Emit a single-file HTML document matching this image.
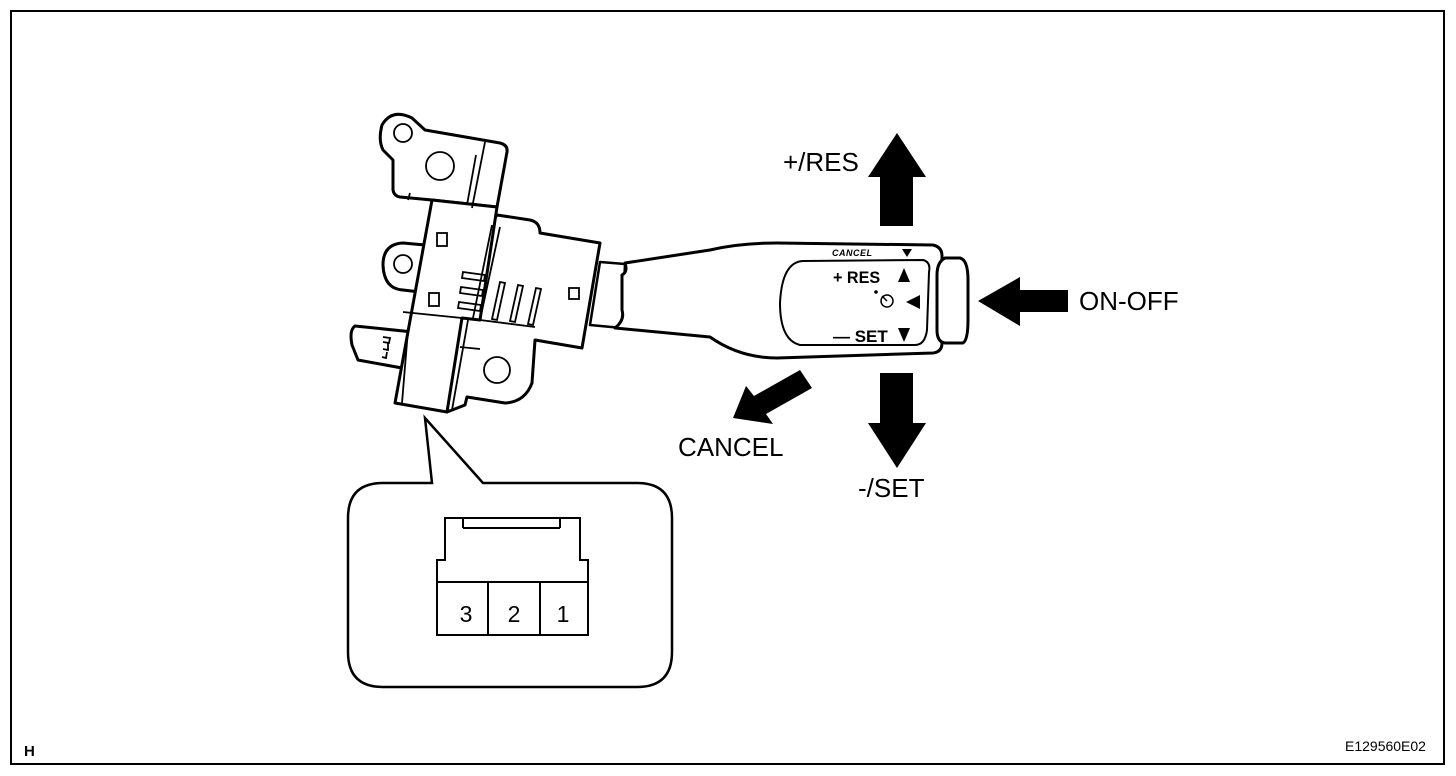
<!DOCTYPE html>
<html><head><meta charset="utf-8"><style>
html,body{margin:0;padding:0;background:#fff;}
svg{display:block;font-family:"Liberation Sans",sans-serif;}
</style></head><body>
<svg width="1456" height="776" viewBox="0 0 1456 776" xmlns="http://www.w3.org/2000/svg">
<rect x="11" y="11" width="1433" height="753" fill="none" stroke="#000" stroke-width="2"/>
<g fill="#fff" stroke="#000" stroke-width="3" stroke-linejoin="round">
<path d="M393,160 L383,150 Q378,140 382,125 Q392,108 412,118 L425,130 L500,143 Q508,145 507,152 L497,207 L432,200 L400,197 Q394,196 393,190 Z"/>
<path d="M425,245 L403,243 Q383,244 383,265 Q384,289 403,290 L420,292 Z"/>
<path d="M413,332 L355,326 Q349,330 352,345 L358,360 L402,368 Z"/>
<path d="M497,215 L530,220 Q540,222 540,233 L600,243 L582,348 L535,340 L532,383 Q525,402 505,403 L467,397 L465,405 L447,412 L430,300 Z"/>
<path d="M432,200 L497,207 L480,320 L462,318 L447,412 L395,403 Z"/>
<path d="M600,262 L625,264 L622,328 L590,325 Z" stroke-width="2.5"/>
</g>
<g fill="none" stroke="#000" stroke-width="1.8">
<circle cx="403" cy="133" r="9"/>
<circle cx="440" cy="166" r="14"/>
<circle cx="403" cy="264" r="9"/>
<circle cx="497" cy="370" r="13"/>
<line x1="485" y1="142" x2="472" y2="208"/>
<line x1="476" y1="155" x2="467" y2="205"/>
<line x1="410" y1="193" x2="408" y2="200"/>
<line x1="403" y1="312" x2="462" y2="318"/>
<line x1="480" y1="320" x2="535" y2="327"/>
<line x1="500" y1="227" x2="480" y2="320"/>
<line x1="492" y1="225" x2="473" y2="318"/>
<line x1="462" y1="318" x2="447" y2="412"/>
<line x1="468" y1="320" x2="452" y2="410"/>
<line x1="408" y1="330" x2="402" y2="403"/>
<line x1="460" y1="347" x2="480" y2="349"/>
<path d="M463,272 L485,275 L484,281 L462,278 Z"/>
<path d="M461,287 L483,290 L482,296 L460,293 Z"/>
<path d="M459,302 L481,305 L480,311 L458,308 Z"/>
<path d="M500,282 L505,283 L497,320 L492,319 Z"/>
<path d="M518,285 L523,286 L515,322 L510,321 Z"/>
<path d="M536,288 L541,289 L533,325 L528,324 Z"/>
<rect x="437" y="233" width="10" height="13"/>
<rect x="429" y="293" width="10" height="13"/>
<rect x="569" y="288" width="10" height="11"/>
<path d="M383,337 L390,338 L389,343 L383,342 M388,343 L388,350 L383,349 M387,352 L386,358 L382,357"/>
</g>
<g stroke="#000" stroke-width="3" fill="#fff" stroke-linejoin="round">
<path d="M625,263 L710,250 Q740,243 777,243 L933,245 Q942,247 942,256 L942,343 Q942,352 933,353 L777,358 Q740,358 710,337 L615,328 Q625,320 622,310 L622,275 Q628,272 625,263 Z"/>
<path d="M803,261 L923,260 Q931,262 929,272 L927,330 Q925,345 915,345 L800,345 Q780,340 780,303 Q782,262 803,261 Z" stroke-width="2"/>
<path d="M945,258 Q937,262 937,275 L937,330 Q937,342 945,343 L963,343 Q968,340 968,320 L968,280 Q968,260 960,258 Z"/>
</g>
<text x="832" y="256" font-size="9" font-style="italic" font-weight="bold" letter-spacing="0.5">CANCEL</text>
<path d="M902,249 L912,249 L907,257 Z"/>
<text x="833" y="283" font-size="17" font-weight="bold" transform="translate(833,0) scale(0.95,1) translate(-833,0)">+ RES</text>
<path d="M898,282 L904,268 L910,282 Z"/>
<circle cx="887" cy="301" r="6" fill="none" stroke="#000" stroke-width="1.5"/>
<line x1="887" y1="301" x2="882" y2="296" stroke="#000" stroke-width="1.5"/>
<circle cx="876" cy="292" r="1.8"/>
<path d="M906,302 L920,295 L920,309 Z"/>
<text x="833" y="342" font-size="17" font-weight="bold">— SET</text>
<path d="M898,328 L910,328 L904,342 Z"/>
<path d="M897,133 L926,177 L913,177 L913,226 L880,226 L880,177 L868,177 Z"/>
<path d="M897,468 L926,423 L913,423 L913,373 L880,373 L880,423 L868,423 Z"/>
<path d="M978,301 L1020,277 L1020,290 L1068,290 L1068,312 L1020,312 L1020,326 Z"/>
<path d="M733,418 L746,386 L754,396 L800,370 L812,388 L766,414 L773,424 Z"/>
<g font-size="26">
<text x="783" y="171">+/RES</text>
<text x="1079" y="310">ON-OFF</text>
<text x="678" y="456">CANCEL</text>
<text x="858" y="497">-/SET</text>
</g>
<path d="M432,483 L425,418 L483,483 L637,483 Q672,483 672,518 L672,652 Q672,687 637,687 L383,687 Q348,687 348,652 L348,518 Q348,483 383,483 Z" fill="#fff" stroke="#000" stroke-width="2.5"/>
<g fill="none" stroke="#000" stroke-width="2">
<path d="M445,560 L445,518 L580,518 L580,560 L588,560 L588,635 L437,635 L437,560 Z"/>
<line x1="437" y1="582" x2="588" y2="582"/>
<line x1="463" y1="528" x2="560" y2="528"/>
<line x1="463" y1="518" x2="463" y2="528"/>
<line x1="560" y1="518" x2="560" y2="528"/>
<line x1="488" y1="582" x2="488" y2="635"/>
<line x1="540" y1="582" x2="540" y2="635"/>
</g>
<g font-size="23" text-anchor="middle">
<text x="466" y="622">3</text><text x="514" y="622">2</text><text x="563" y="622">1</text>
</g>
<text x="24" y="756" font-size="15" font-weight="bold">H</text>
<text x="1345" y="751" font-size="14">E129560E02</text>
</svg>
</body></html>
